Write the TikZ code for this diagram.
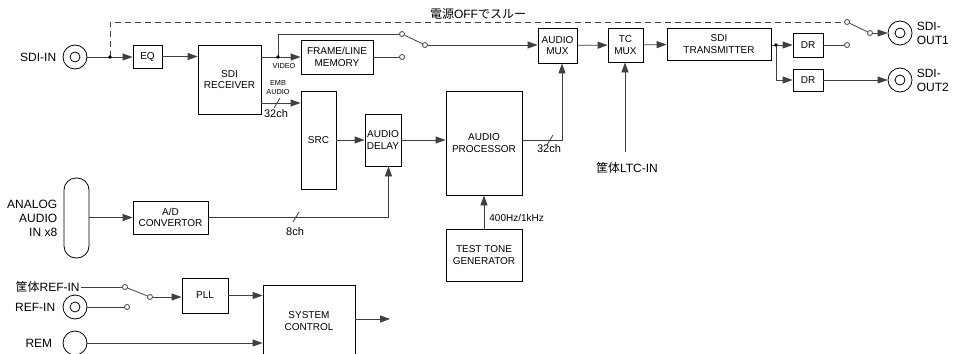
\documentclass[tikz,border=0pt]{standalone}
\usepackage{fontspec}
\setmainfont{Liberation Sans}
\newfontfamily\jpfont{Noto Sans CJK JP}
\usetikzlibrary{arrows.meta,positioning}

\begin{document}
\begin{tikzpicture}[x=1pt,y=-1pt,
    >={Triangle[length=10pt,width=7pt]},
    line width=0.8pt,
    blk/.style={draw,inner sep=0pt,align=center,font=\fontsize{10}{11.7}\selectfont},
    wire/.style={draw=black!75},
    contact/.style={circle,draw=black!75,fill=white,inner sep=0pt,minimum size=5pt},
    coax/.style={circle,draw,inner sep=0pt,minimum size=24pt,
        path picture={\draw (path picture bounding box.center) circle (5pt);}},
    lbl/.style={font=\fontsize{12}{14}\selectfont,inner sep=1pt},
    chlbl/.style={font=\fontsize{11}{12}\selectfont,inner sep=0pt},
    tinylbl/.style={font=\fontsize{7.3}{9}\selectfont,inner sep=0pt,align=center}]

\useasboundingbox (0,0) rectangle (965,353);

\newcommand\blockbox[6]
{
    \node (#1) [blk,minimum width={(#4-#2)*1pt},minimum height={(#5-#3)*1pt}]
        at ({(#2+#4)/2},{(#3+#5)/2}) {#6};
}
\newcommand\slashmark[2]{\draw [wire] (#1-3,#2+5) -- (#1+3,#2-5);}

\blockbox{eq}{133}{45}{162}{68}{EQ}
\blockbox{rx}{198}{45}{261}{114}{SDI\\RECEIVER}
\blockbox{mem}{301}{40}{373}{74}{FRAME/LINE\\MEMORY}
\blockbox{src}{301}{91}{336}{189}{SRC}
\blockbox{dly}{365}{114}{401}{166}{AUDIO\\DELAY}
\blockbox{proc}{446}{91}{522}{195}{AUDIO\\PROCESSOR}
\blockbox{amux}{538}{28}{577}{63}{AUDIO\\MUX}
\blockbox{tmux}{608}{28}{643}{62}{TC\\MUX}
\blockbox{tx}{667}{28}{771}{60}{SDI\\TRANSMITTER}
\blockbox{dra}{793}{33}{823}{57}{DR}
\blockbox{drb}{793}{69}{823}{91}{DR}
\blockbox{adc}{133}{201}{208}{234}{A/D\\CONVERTOR}
\blockbox{ttg}{446}{229}{522}{281}{TEST TONE\\GENERATOR}
\blockbox{pll}{182}{278}{228}{313}{PLL}
\blockbox{sys}{263}{285}{355}{357}{SYSTEM\\CONTROL}

% inputs and outputs
\node (sdiin) [coax] at (75,57) {};
\node (sdiintxt) [lbl,left=5pt of sdiin] {SDI-IN};
\node (sdiouta) [coax] at (900,33) {};
\node (sdioutb) [coax] at (900,80) {};
\node (sdioutatxt) [lbl,right=3pt of sdiouta,align=left] {SDI-\\OUT1};
\node (sdioutbtxt) [lbl,right=3pt of sdioutb,align=left] {SDI-\\OUT2};
\node (aain) [draw,rounded corners=12pt,minimum width=25pt,minimum height=80pt] at (76.5,218) {};
\node (aaintxt) [lbl,left=5pt of aain,align=right] {ANALOG\\AUDIO\\IN x8};
\node (refin) [coax] at (75,307) {};
\node (refintxt) [lbl,left=6pt of refin] {REF-IN};
\node (rem) [circle,draw,inner sep=0pt,minimum size=24pt] at (75,343) {};
\node (remtxt) [lbl,left=9pt of rem] {REM};
\node (refint) [lbl,anchor=east] at (81,287) {{\jpfont 筐体}REF-IN};
\node (ltctxt) [lbl] at (627,168) {{\jpfont 筐体}LTC-IN};
\node (thru) [lbl] at (478,14) {{\jpfont 電源}OFF{\jpfont でスルー}};

% switches
\node (swa1) [contact] at (402,34) {};
\node (swa2) [contact] at (402,57) {};
\node (swap) [contact] at (425,45) {};
\node (swo1) [contact] at (847,22) {};
\node (swo2) [contact] at (847,45) {};
\node (swop) [contact] at (870,33) {};
\node (swr1) [contact] at (125,287) {};
\node (swr2) [contact] at (127,307) {};
\node (swrp) [contact] at (150,297) {};

\coordinate (jin) at (110,57);
\coordinate (jvid) at (278,57);
\coordinate (jtx) at (776,45);
\coordinate (ltc) at (625,152);
\coordinate (sysout) at (390,319);

% video path
\draw [wire,dash pattern=on 6pt off 4pt] (jin) -- (jin |- swo1) -- (swo1);
\draw [wire,->] (sdiin) -- (eq.west |- sdiin);
\draw [wire,->] (eq.east) -- (eq.east -| rx.west);
\draw [wire,->] (rx.east |- mem) -- (mem.west);
\draw [wire] (jvid) -- (jvid |- swa1) -- (swa1);
\draw [wire] (mem.east) -- (swa2);
\draw [wire] (swa1) -- (swap);
\draw [wire,->] (swap) -- (amux.west |- swap);
\draw [wire,->] (amux) -- (tmux);
\draw [wire,->] (tmux) -- (tx);
\draw [wire,->] (tx.east |- dra) -- (dra.west);
\draw [wire,->] (jtx) |- (drb.west);
\draw [wire] (dra.east) -- (swo2);
\draw [wire] (swo1) -- (swop);
\draw [wire,->] (swop) -- (sdiouta.west |- swop);
\draw [wire,->] (drb.east) -- (sdioutb.west |- drb);
\draw [wire,->] (ltc) -- (ltc |- tmux.south);
\fill (jin) circle (1.8pt);
\fill (jvid) circle (1.8pt);
\fill (jtx) circle (1.8pt);
\node (vidtxt) [tinylbl] at (284,66) {VIDEO};

% audio path
\draw [wire,->] (rx.east |- 0,103) -- (src.west |- 0,103);
\slashmark{277}{103}
\node (embtxt) [tinylbl] at (278,88) {EMB\\AUDIO};
\node (ch32a) [chlbl] at (276,114) {32ch};
\draw [wire,->] (src.east |- dly) -- (dly.west);
\draw [wire,->] (dly.east) -- (dly.east -| proc.west);
\draw [wire,->] (proc.east |- dly) -| ([xshift=4.5pt]amux.south);
\slashmark{550}{140}
\node (ch32b) [chlbl] at (549,149) {32ch};
\draw [wire,->] (aain.east |- adc) -- (adc.west);
\draw [wire,->] (adc.east) -| ([xshift=5.5pt]dly.south);
\slashmark{296}{217}
\node (ch8) [chlbl] at (295,232) {8ch};
\draw [wire,->] (ttg.north) -- (proc.south);
\node (tonetxt) [chlbl,font=\fontsize{10}{12}\selectfont,anchor=west] at (489,218) {400Hz/1kHz};

% reference and control
\draw [wire] (refint.east) -- (swr1);
\draw [wire] (refin) -- (swr2);
\draw [wire] (swr1) -- (swrp);
\draw [wire,->] (swrp) -- (pll.west |- swrp);
\draw [wire,->] (pll.east) -- (pll.east -| sys.west);
\draw [wire,->] (rem) -- (sys.west |- rem);
\draw [wire,->] (sys.east |- sysout) -- (sysout);

\end{tikzpicture}
\end{document}
